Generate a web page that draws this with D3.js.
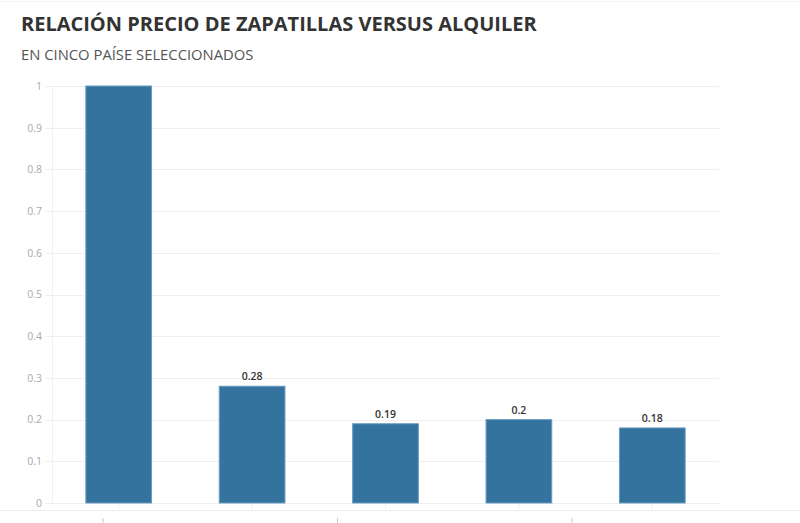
<!DOCTYPE html>
<html><head><meta charset="utf-8">
<script src="https://cdn.jsdelivr.net/npm/d3@7"></script>
<style>
html,body{margin:0;padding:0;background:#fff;}
svg{display:block;}
</style></head>
<body>
<script>
const title = "RELACIÓN PRECIO DE ZAPATILLAS VERSUS ALQUILER";
const subtitle = "EN CINCO PAÍSE SELECCIONADOS";
const categories = ["País 1","País 2","País 3","País 4","País 5"];
const values = [1, 0.28, 0.19, 0.2, 0.18];
const labels = ["", "0.28", "0.19", "0.2", "0.18"];
const yTicks = [0,0.1,0.2,0.3,0.4,0.5,0.6,0.7,0.8,0.9,1];
const bottomTicks = [0, 1, 2];

const W = 800, H = 523;
const svg = d3.select("body").append("svg").attr("width",W).attr("height",H);

svg.append("line").attr("x1",0).attr("x2",W).attr("y1",1.5).attr("y2",1.5)
  .attr("stroke","#f3f3f3").attr("stroke-width",1);

svg.append("text").attr("x",21).attr("y",31).text(title)
  .attr("font-family","'Open Sans', sans-serif").attr("font-weight",700)
  .attr("font-size",20).attr("fill","#333");
svg.append("text").attr("x",21).attr("y",60).text(subtitle)
  .attr("font-family","'Open Sans', sans-serif")
  .attr("font-size",14.8).attr("fill","#555");

const x = d3.scaleBand().domain(categories).range([52,719]).paddingInner(0.5).paddingOuter(0.25);
const y = d3.scaleLinear().domain([0,1]).range([503,86]);

// gridlines
svg.append("g").selectAll("line").data(yTicks).join("line")
  .attr("x1",45).attr("x2",719).attr("y1",d=>Math.round(y(d))+0.5).attr("y2",d=>Math.round(y(d))+0.5)
  .attr("stroke","#efefef").attr("stroke-width",1.2);
svg.append("line").attr("x1",52.5).attr("x2",52.5).attr("y1",86).attr("y2",503)
  .attr("stroke","#f0f0f0");

// y axis labels
const yAxis = d3.axisLeft(y).tickValues(yTicks).tickSize(0).tickPadding(0).tickFormat(d3.format("~g"));
const ga = svg.append("g").attr("transform","translate(42,0)").call(yAxis);
ga.select(".domain").remove();
ga.selectAll("text").attr("font-family","'Open Sans', sans-serif").attr("font-size",10.5).attr("fill","#aaa");

// x ticks (small)
svg.append("g").selectAll("line").data(categories).join("line")
  .attr("x1",d=>x(d)+x.bandwidth()/2).attr("x2",d=>x(d)+x.bandwidth()/2)
  .attr("y1",504).attr("y2",509).attr("stroke","#eee");

// bottom full line
svg.append("line").attr("x1",0).attr("x2",W).attr("y1",510.5).attr("y2",510.5)
  .attr("stroke","#ececec").attr("stroke-width",1.2);

// bottom odd ticks
const xb = d3.scaleLinear().domain([0,2]).range([103,572]);
svg.append("g").selectAll("line").data(bottomTicks).join("line")
  .attr("x1",d=>xb(d)).attr("x2",d=>xb(d)).attr("y1",518).attr("y2",523)
  .attr("stroke","#ccc");

// bars
svg.append("g").selectAll("rect").data(values).join("rect")
  .attr("x",(d,i)=>x(categories[i])+0.5).attr("width",x.bandwidth()-1)
  .attr("y",d=>y(d)).attr("height",d=>y(0)-y(d))
  .attr("fill","#33739e").attr("stroke","#6a9cc2").attr("stroke-width",1);

// value labels
svg.append("g").selectAll("text").data(values).join("text")
  .attr("x",(d,i)=>x(categories[i])+x.bandwidth()/2).attr("y",d=>y(d)-6)
  .attr("text-anchor","middle").text((d,i)=>labels[i])
  .attr("font-family","'Open Sans', sans-serif").attr("font-weight",600)
  .attr("font-size",10.5).attr("fill","#333");
</script>
</body></html>
